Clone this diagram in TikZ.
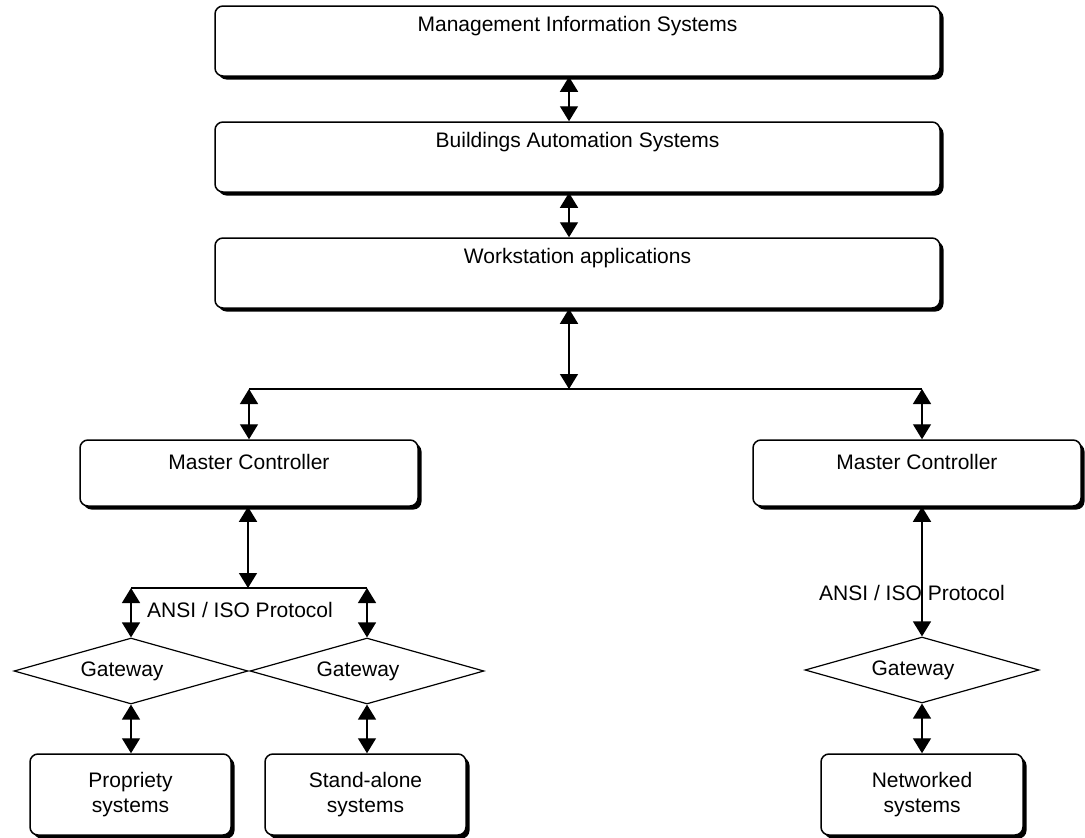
\documentclass[tikz,border=0pt]{standalone}
\usepackage{fontspec}
\setmainfont{Liberation Sans}
\usetikzlibrary{arrows.meta,shapes.geometric,shadows}

\begin{document}
\begin{tikzpicture}[x=1pt,y=-1pt,
  font=\fontsize{21}{25.5}\selectfont,
  sysbox/.style={draw, line width=1.5pt, rounded corners=8pt, fill=white, inner sep=0pt,
    drop shadow={shadow xshift=3.5pt, shadow yshift=-3.5pt, opacity=1, fill=black}},
  wide/.style={sysbox, minimum width=725pt, minimum height=70pt,
    text height=15pt, text depth=34pt},
  ctrl/.style={sysbox, minimum height=66pt, text height=15pt, text depth=22pt},
  leaf/.style={sysbox, minimum width=201pt, minimum height=81pt, align=center},
  gateway/.style={draw, diamond, line width=1.2pt, inner sep=0pt, aspect=3.5,
    minimum width=234pt, minimum height=66pt},
  link/.style={line width=1.4pt,
    {Triangle[width=18pt,length=15pt]}-{Triangle[width=18pt,length=15pt]}},
  bus/.style={line width=1.4pt},
  proto/.style={inner sep=0pt}
]
\useasboundingbox (0,0) rectangle (1085,838);

% upper system layers
\node[wide] (mis) at (577.5,41)  {Management Information Systems};
\node[wide] (bas) at (577.5,157) {Buildings Automation Systems};
\node[wide] (ws)  at (577.5,273) {Workstation applications};

% bus junctions
\coordinate (busM) at (569,389);
\coordinate (busL) at (249,389);
\coordinate (busR) at (922,389);
\coordinate (subM) at (248,588);
\coordinate (subL) at (131,588);
\coordinate (subR) at (367,588);

% controllers
\node[ctrl, minimum width=338pt] (mc1) at (249,473) {Master Controller};
\node[ctrl, minimum width=328pt] (mc2) at (917,473) {Master Controller};

% gateways
\node[gateway] (gw1) at (131,671) {Gateway\hspace*{18pt}};
\node[gateway] (gw2) at (367,671) {Gateway\hspace*{18pt}};
\node[gateway] (gw3) at (922,670) {Gateway\hspace*{18pt}};

% protocol labels
\node[proto] (ansi1) at (240,610) {ANSI / ISO Protocol};
\node[proto] (ansi2) at (912,593) {ANSI / ISO Protocol};

% field systems
\node[leaf] (ps) at (130.5,794.5) {Propriety\\systems};
\node[leaf] (sa) at (365.5,794.5) {Stand-alone\\systems};
\node[leaf, minimum width=202pt] (ns) at (922,794.5) {Networked\\systems};

% buses
\draw[bus] (busL) -- (busR);
\draw[bus] (subL) -- (subR);

% links
\draw[link] (mis.south -| busM) -- (bas.north -| busM);
\draw[link] (bas.south -| busM) -- (ws.north -| busM);
\draw[link] (ws.south -| busM) -- (busM);
\draw[link] (busL) -- (busL |- mc1.north);
\draw[link] (busR) -- (busR |- mc2.north);
\draw[link] (mc1.south -| subM) -- (subM);
\draw[link] (subL) -- (gw1.north);
\draw[link] (subR) -- (gw2.north);
\draw[link] (gw1.south) -- (gw1.south |- ps.north);
\draw[link] (gw2.south) -- (gw2.south |- sa.north);
\draw[link] (mc2.south -| gw3.north) -- (gw3.north);
\draw[link] (gw3.south) -- (ns.north);
\end{tikzpicture}
\end{document}
